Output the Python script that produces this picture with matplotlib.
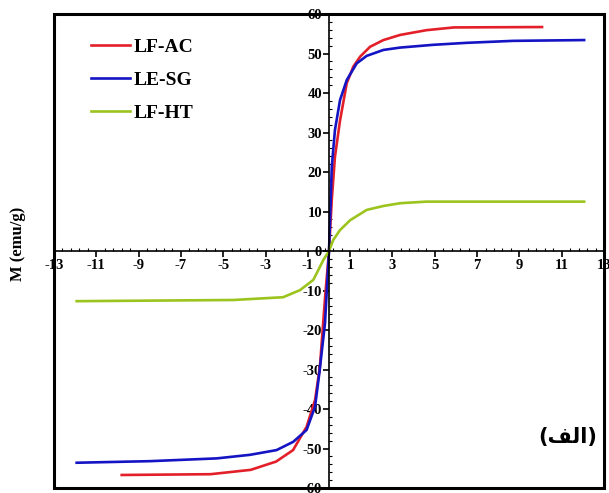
import matplotlib.pyplot as plt
from matplotlib.patches import Rectangle
from matplotlib.ticker import FixedLocator
import numpy as np

# field H (kOe) and magnetization M (emu/g)
h_ac = [-9.8, -5.6, -3.7, -2.5, -1.7, -1.06, -0.66, -0.43, -0.19, 0.0,
        0.13, 0.28, 0.52, 0.84, 1.15, 1.47, 1.94, 2.57, 3.36, 4.6, 5.9, 10.07]
m_ac = [-56.7, -56.5, -55.4, -53.3, -50.4, -44.5, -37.7, -29.3, -12.0, 0.0,
        12.9, 23.8, 33.0, 42.5, 46.7, 49.2, 51.7, 53.4, 54.7, 55.9, 56.6, 56.7]

h_sg = [-11.93, -8.46, -5.31, -3.74, -2.48, -1.69, -1.06, -0.66, -0.46, -0.19, 0.0,
        0.13, 0.28, 0.52, 0.84, 1.31, 1.78, 2.57, 3.36, 4.93, 6.5, 8.7, 12.06]
m_sg = [-53.6, -53.2, -52.5, -51.6, -50.4, -48.3, -45.3, -39.4, -31.0, -18.3, 0.0,
        21.3, 30.6, 38.2, 43.3, 47.5, 49.4, 50.9, 51.5, 52.2, 52.7, 53.2, 53.4]

h_ht = [-11.93, -4.53, -2.17, -1.37, -0.74, -0.27, 0.0,
        0.2, 0.52, 1.0, 1.78, 2.57, 3.36, 4.6, 12.06]
m_ht = [-12.7, -12.4, -11.7, -9.9, -7.3, -2.3, 0.0,
        2.8, 5.3, 7.8, 10.4, 11.4, 12.1, 12.5, 12.5]

x_major = np.arange(-13, 14, 2)
y_major = np.arange(-60, 61, 10)

fig = plt.figure(figsize=(6.09, 4.93), dpi=100)
ax = fig.add_axes([0.0887, 0.0101, 0.9031, 0.9615])

serif = 'Liberation Serif'
ax.plot(h_ac, m_ac, color='#e3202a', lw=1.9, label='LF-AC')
ax.plot(h_sg, m_sg, color='#1414c4', lw=1.9, label='LE-SG')
ax.plot(h_ht, m_ht, color='#9cc41e', lw=1.9, label='LF-HT')

ax.set_xlim(-13, 13)
ax.set_ylim(-60, 60)

# axes crossing at the origin, plus an outer frame
ax.spines['left'].set_position(('data', 0))
ax.spines['bottom'].set_position(('data', 0))
ax.spines['top'].set_visible(False)
ax.spines['right'].set_visible(False)
ax.spines['left'].set_linewidth(1.2)
ax.spines['bottom'].set_linewidth(1.2)
ax.add_patch(Rectangle((0, 0), 1, 1, transform=ax.transAxes, fill=False,
                       lw=2.2, ec='black', clip_on=False, zorder=5))

ax.set_xticks(x_major)
ax.set_xticklabels([str(v) for v in x_major])
ax.set_yticks(y_major)
ax.set_yticklabels([str(v) for v in y_major])
ax.xaxis.set_minor_locator(FixedLocator(np.arange(-13, 13.01, 0.4)))
ax.yaxis.set_minor_locator(FixedLocator(np.arange(-60, 61, 2)))
ax.tick_params(which='major', direction='out', length=4, width=1.2)
ax.tick_params(which='minor', direction='in', length=2, width=0.8)
ax.tick_params(axis='x', pad=2)
ax.tick_params(axis='y', pad=1)
for lab in ax.get_xticklabels() + ax.get_yticklabels():
    lab.set_fontfamily(serif)
    lab.set_fontweight('bold')
    lab.set_fontsize(10.5)

fig.text(0.03, 0.505, 'M (emu/g)', rotation=90, ha='center', va='center',
         fontfamily=serif, fontweight='bold', fontsize=12)

leg = ax.legend(loc='upper left', bbox_to_anchor=(0.035, 0.985), frameon=False,
                prop={'family': serif, 'weight': 'bold', 'size': 14},
                handlelength=2.0, handletextpad=0.2, labelspacing=0.78)

# (الف) written in visual order with Arabic presentation forms
ax.text(0.988, 0.108, '(\uFED2\uFEDF\uFE8D)', transform=ax.transAxes,
        ha='right', va='center', fontfamily='DejaVu Sans', fontweight='bold',
        fontsize=15)

fig.savefig('out.png', dpi=100)
